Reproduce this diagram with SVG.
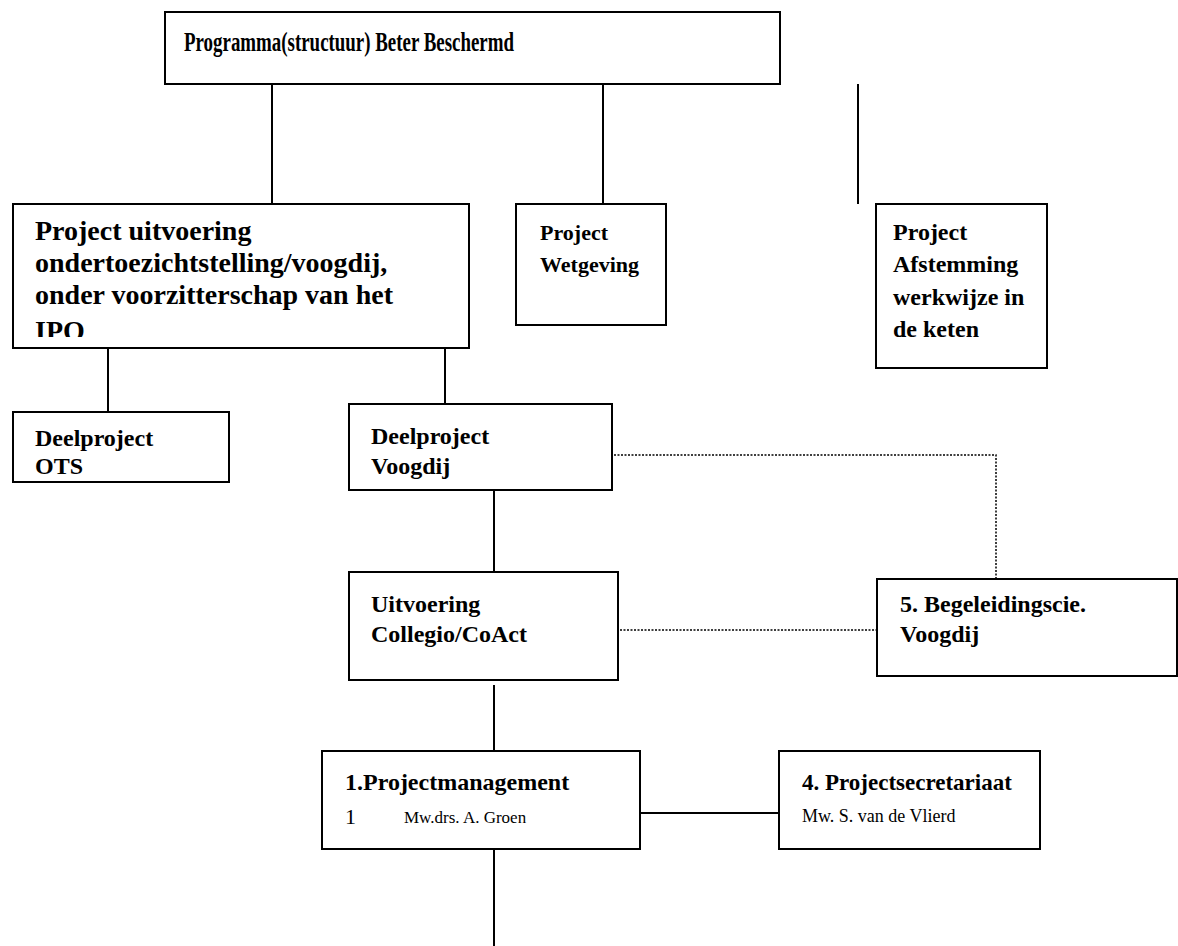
<svg xmlns="http://www.w3.org/2000/svg" width="1178" height="946" viewBox="0 0 1178 946">
<style>
.box{fill:#fff;stroke:#000;stroke-width:2}
.ln{stroke:#000;stroke-width:2;fill:none}
.dot{stroke:#000;stroke-width:1.5;fill:none;stroke-dasharray:2 1.5}
.b{font-family:"Liberation Serif",serif;font-weight:bold;fill:#000}
.r{font-family:"Liberation Serif",serif;fill:#000}
</style>
<defs>
<clipPath id="clipA"><rect x="14" y="205" width="454" height="132"/></clipPath>
</defs>
<rect width="1178" height="946" fill="#fff"/>
<g id="connectors">
<line class="ln" x1="272" y1="84" x2="272" y2="204"/>
<line class="ln" x1="603" y1="84" x2="603" y2="204"/>
<line class="ln" x1="858" y1="84" x2="858" y2="204"/>
<line class="ln" x1="108" y1="342" x2="108" y2="412"/>
<line class="ln" x1="445" y1="342" x2="445" y2="404"/>
<line class="ln" x1="494" y1="490" x2="494" y2="572"/>
<line class="ln" x1="494" y1="685" x2="494" y2="751"/>
<line class="ln" x1="494" y1="849" x2="494" y2="946"/>
<line class="ln" x1="640" y1="813" x2="779" y2="813"/>
<polyline class="dot" points="614,455 996,455 996,579"/>
<line class="dot" x1="620" y1="630" x2="877" y2="630"/>
</g>
<g id="top">
<rect class="box" x="165" y="12" width="615" height="72"/>
<text class="b" x="184" y="51" font-size="27" textLength="330" lengthAdjust="spacingAndGlyphs">Programma(structuur) Beter Beschermd</text>
</g>
<g id="projectA">
<rect class="box" x="13" y="204" width="456" height="144"/>
<g clip-path="url(#clipA)">
<text class="b" x="35" y="240" font-size="28">Project uitvoering</text>
<text class="b" x="35" y="272" font-size="28">ondertoezichtstelling/voogdij,</text>
<text class="b" x="35" y="304" font-size="28">onder voorzitterschap van het</text>
<text class="b" x="35" y="340" font-size="28">IPO</text>
</g>
</g>
<g id="projectB">
<rect class="box" x="516" y="204" width="150" height="121"/>
<text class="b" x="540" y="240" font-size="22">Project</text>
<text class="b" x="540" y="272" font-size="22">Wetgeving</text>
</g>
<g id="projectC">
<rect class="box" x="876" y="204" width="171" height="164"/>
<text class="b" x="893" y="240" font-size="24">Project</text>
<text class="b" x="893" y="272" font-size="24">Afstemming</text>
<text class="b" x="893" y="305" font-size="24">werkwijze in</text>
<text class="b" x="893" y="337" font-size="24">de keten</text>
</g>
<g id="ots">
<rect class="box" x="13" y="412" width="216" height="70"/>
<text class="b" x="35" y="446" font-size="24">Deelproject</text>
<text class="b" x="35" y="474" font-size="24">OTS</text>
</g>
<g id="voogdij">
<rect class="box" x="349" y="404" width="263" height="86"/>
<text class="b" x="371" y="444" font-size="24">Deelproject</text>
<text class="b" x="371" y="474" font-size="24">Voogdij</text>
</g>
<g id="uitvoering">
<rect class="box" x="349" y="572" width="269" height="108"/>
<text class="b" x="371" y="612" font-size="24">Uitvoering</text>
<text class="b" x="371" y="642" font-size="24">Collegio/CoAct</text>
</g>
<g id="begeleiding">
<rect class="box" x="877" y="579" width="300" height="97"/>
<text class="b" x="900" y="612" font-size="24">5. Begeleidingscie.</text>
<text class="b" x="900" y="642" font-size="24">Voogdij</text>
</g>
<g id="projectmanagement">
<rect class="box" x="322" y="751" width="318" height="98"/>
<text class="b" x="345" y="790" font-size="24">1.Projectmanagement</text>
<text class="r" x="345" y="824" font-size="22">1</text>
<text class="r" x="404" y="823" font-size="17">Mw.drs. A. Groen</text>
</g>
<g id="secretariaat">
<rect class="box" x="779" y="751" width="261" height="98"/>
<text class="b" x="802" y="790" font-size="23">4. Projectsecretariaat</text>
<text class="r" x="802" y="822" font-size="18">Mw. S. van de Vlierd</text>
</g>
</svg>
